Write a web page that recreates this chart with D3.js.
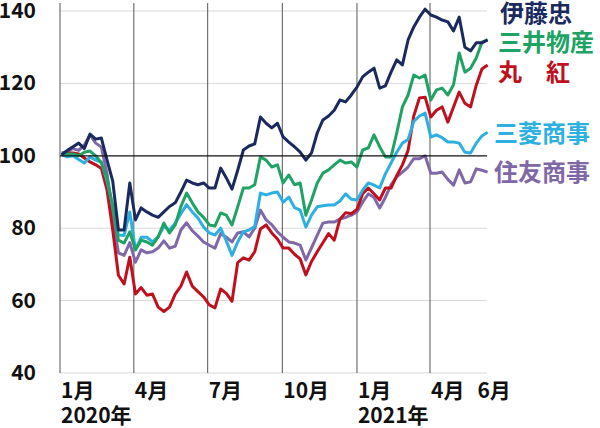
<!DOCTYPE html>
<html>
<head>
<meta charset="utf-8">
<script src="https://cdn.jsdelivr.net/npm/d3@7"></script>
<style>
  html, body { margin: 0; padding: 0; background: #fff; }
  svg { display: block; }
  text { font-family: "Noto Sans CJK JP", "Noto Sans", sans-serif; font-weight: 700; }
</style>
</head>
<body>
<svg id="chart" width="600" height="428"></svg>
<script>
// ---- data (weekly index, base = 100) ----
const firstWeek = "2020-01-03";   // first weekly observation (Friday)
const seriesNames = ["伊藤忠", "三井物産", "丸　紅", "三菱商事", "住友商事"];
const itochu = [100.3,101.5,102.5,103.5,102,106,104.6,104.9,98.8,93,79.5,79.5,92.5,82.3,85.6,84.5,83.6,83,84.5,86,87,90,93.3,92.5,92,92.5,91.1,91.1,96.6,93.9,90.8,96,101.6,102.7,103.3,110.7,109,107.7,109,105.2,103.8,102.5,101,98.8,100.8,106.3,109.9,111,112.6,115.4,114.9,116.8,119,121.8,123.1,124.2,118.7,119.3,123.1,126.5,125.1,132,135.6,138.3,140.5,138.9,138.3,137.5,137,134.5,138.3,130,129,131.2,131.2,132];
const mitsui = [100.8,100.5,100.5,100,101,101.3,100,98,94,86,76.7,75.9,79,74,76.7,76.2,75.3,77.6,81.4,78.7,80.9,86,89.7,87,84.5,83,80.9,80.6,84.2,83.6,80.9,85.9,91.1,91.1,92,99.7,98.8,96.9,97.5,92.5,94.7,92,92.5,83.6,87.8,92.5,95.2,96.1,97.5,98.8,98,98.3,96.9,101.6,102.2,105.8,102.5,99.7,99.7,106.3,113.5,116.8,122.3,121.5,122.3,115.4,118.2,118.7,116.8,119.6,128.4,123.1,124.2,127,131.4,132];
const marubeni = [100.3,100.8,100.8,100.5,99.4,98.3,97.5,96.5,90.5,79.5,67,64.6,72,61.8,63.6,61.5,61.8,58.2,57,58.2,61.8,64,67.9,64,62.5,61,58.8,58,63.2,62,59.8,70.5,71.8,71.2,73.5,79.8,80.9,78.7,77,74.5,74.5,72.8,71.5,67.1,70.8,73.5,76,78.5,76.7,82.5,84.3,84,85.2,89.5,91.1,89.5,87.8,91.1,91.1,94.5,97.5,101.5,111,116,116.2,110.7,112.6,113.5,109.3,113.5,117.6,114.5,113.5,119.5,124,125.1];
const mitsubishi = [100.3,99.7,100,99,98,99.7,98.8,98.3,93,86,78.1,78,84.5,74,77.5,77.5,76.2,77.6,80.5,79.5,81.4,84,86.5,84.5,82.8,80.3,78.7,78.1,80,76.5,72.5,76.2,79,79.5,80.5,89.7,89.2,89.7,90,87.2,88.6,85.7,85,80.3,83.6,85.9,86.2,86.4,86.4,87.5,89.5,88,87.8,90.5,92.5,91.9,91.1,95,98,101,103.5,104.5,109.5,111,111.8,105.2,105.8,105,103.8,103.8,103.5,101,100.8,103.5,105.5,106.5];
const sumitomo = [100.8,101.1,102,101.5,103,105.8,103.5,102.4,95,83,73.2,72.5,76,70.6,74,73.2,73.5,74.5,76.5,74.5,75,79.5,81.5,79.3,77.8,76.2,75.3,74.5,78.5,77.5,76.2,78.7,79,77.6,80,85,82.3,81,79,77.5,76.2,75.9,75.3,71.2,74.6,78,81.4,81.7,81.7,82.5,83,83.6,84.5,87.2,89.5,88.5,85.6,88.5,92,94.2,95.5,96.9,99.2,99.2,100,95.2,95.2,95.5,93.5,91.9,96.1,92.5,92.8,96.4,96,95.5];
const yTicks = [40, 60, 80, 100, 120, 140];
const monthTicks = ["2020-01-01", "2020-04-01", "2020-07-01", "2020-10-01", "2021-01-01", "2021-04-01", "2021-06-01"];
const monthLabels = ["1月", "4月", "7月", "10月", "1月", "4月", "6月"];
const gridMonths = ["2020-01-01", "2020-04-01", "2020-07-01", "2020-10-01", "2021-01-01", "2021-04-01"];
const yearTicks = ["2020-01-01", "2021-01-01"];
const yearLabels = ["2020年", "2021年"];
const colors = ["#1a2a5e", "#20a264", "#c0101e", "#2db0e0", "#8068a8"];

// ---- layout ----
const svg = d3.select("#chart");
const parse = d3.timeParse("%Y-%m-%d");
const x = d3.scaleTime().domain([parse("2020-01-01"), parse("2021-04-01")]).range([60, 430]);
const y = d3.scaleLinear().domain([40, 140]).range([373, 11]);
const plotRight = 487;
const start = parse(firstWeek);
const allSeries = [itochu, mitsui, marubeni, mitsubishi, sumitomo];
const dates = itochu.map((_, i) => d3.timeDay.offset(start, 7 * i));

// horizontal grid lines
svg.append("g").selectAll("line").data(yTicks.filter(v => v !== 100)).join("line")
  .attr("x1", 60).attr("x2", plotRight)
  .attr("y1", d => y(d)).attr("y2", d => y(d))
  .attr("stroke", "#d9d9d9").attr("stroke-width", 1);

// vertical quarter lines
svg.append("g").selectAll("line").data(gridMonths.map(parse)).join("line")
  .attr("x1", d => x(d)).attr("x2", d => x(d))
  .attr("y1", 3).attr("y2", y(40))
  .attr("stroke", "#555").attr("stroke-width", 1);

// y labels
svg.append("g").selectAll("text").data(yTicks).join("text")
  .attr("x", 36).attr("y", d => y(d) + 7)
  .attr("text-anchor", "end")
  .attr("font-size", 21).attr("fill", "#111")
  .text(d => d);

// x labels
svg.append("g").selectAll("text").data(monthTicks).join("text")
  .attr("x", (d, i) => x(parse(d)) + (i === 6 ? -2 : 1)).attr("y", 398)
  .attr("font-size", 21).attr("fill", "#111")
  .text((d, i) => monthLabels[i]);
svg.append("g").selectAll("text").data(yearTicks).join("text")
  .attr("x", d => x(parse(d)) + 1).attr("y", 423)
  .attr("font-size", 21).attr("fill", "#111")
  .text((d, i) => yearLabels[i]);

// lines (draw order: back to front)
const line = d3.line().x((d, i) => x(dates[i])).y(d => y(d));
const order = [4, 2, 3, 1, 0];
svg.append("g").selectAll("path").data(order).join("path")
  .attr("d", k => line(allSeries[k]))
  .attr("fill", "none")
  .attr("stroke", k => colors[k])
  .attr("stroke-width", 3)
  .attr("stroke-linejoin", "round");

// 100 base line
svg.append("line")
  .attr("x1", 60).attr("x2", plotRight)
  .attr("y1", y(100)).attr("y2", y(100))
  .attr("stroke", "#111").attr("stroke-width", 1.3);

// legend labels
const legendPos = [[500, 22], [498, 51], [498, 81], [494, 142], [494, 181]];
svg.append("g").selectAll("text").data(seriesNames).join("text")
  .attr("x", (d, i) => legendPos[i][0]).attr("y", (d, i) => legendPos[i][1])
  .attr("font-size", 24).attr("font-weight", 900)
  .attr("fill", (d, i) => colors[i])
  .text(d => d);
</script>
</body>
</html>
